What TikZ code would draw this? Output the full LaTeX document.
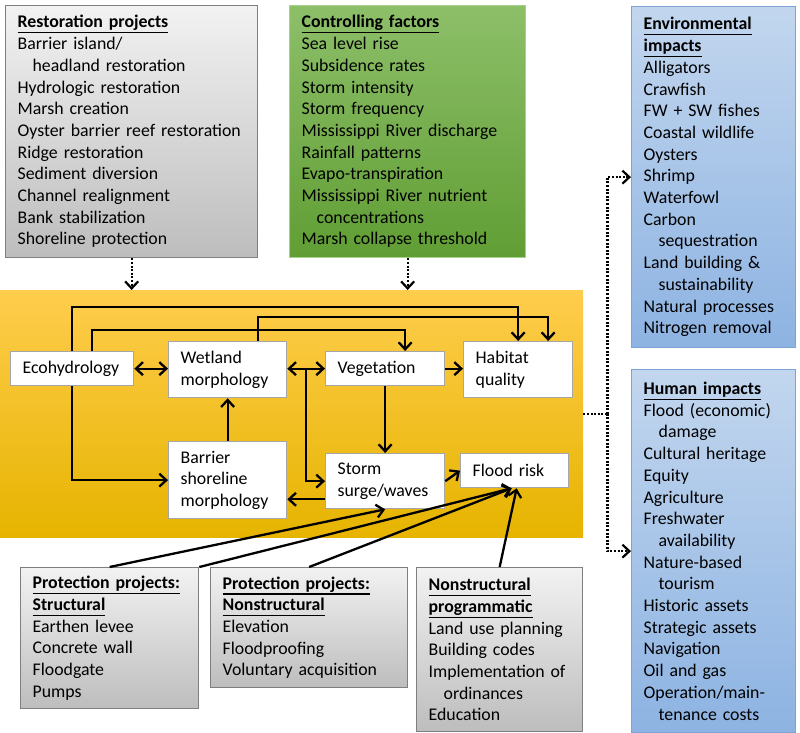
\documentclass[tikz,border=0pt]{standalone}
\usepackage{fontspec}
\setmainfont{Carlito}
\usetikzlibrary{arrows.meta,calc}
\definecolor{grayA}{RGB}{242,242,242}
\definecolor{grayB}{RGB}{189,189,189}
\definecolor{grayline}{RGB}{127,127,127}
\definecolor{greenA}{RGB}{141,191,105}
\definecolor{greenB}{RGB}{96,158,52}
\definecolor{greenline}{RGB}{169,209,142}
\definecolor{blueA}{RGB}{194,214,238}
\definecolor{blueB}{RGB}{141,179,226}
\definecolor{blueline}{RGB}{125,163,214}
\definecolor{orngA}{RGB}{255,205,76}
\definecolor{orngB}{RGB}{255,192,0}
\definecolor{orngC}{RGB}{230,180,0}
\definecolor{procline}{RGB}{166,166,166}
\newcommand{\boxhead}[1]{\leavevmode\setbox0\hbox{\textbf{#1}}\rlap{\rule[-5.5pt]{\wd0}{1.3pt}}\box0}
\newcommand{\indln}{\hspace*{15pt}}
\tikzset{
  txt/.style={font=\fontsize{17.8}{21.7}\selectfont, align=left, anchor=north west, inner xsep=12pt, inner ysep=0pt},
  graybox/.style={txt, draw=grayline, line width=1.3pt, top color=grayA, bottom color=grayB},
  greenbox/.style={txt, draw=greenline, line width=1.3pt, top color=greenA, bottom color=greenB},
  bluebox/.style={txt, draw=blueline, line width=1.3pt, top color=blueA, bottom color=blueB},
  proc/.style={txt, draw=procline, line width=1.3pt, fill=white},
  arr/.style={line width=2.3pt},
  dotarr/.style={line width=2.2pt, dash pattern=on 2pt off 1.6pt}
}
\begin{document}
\begin{tikzpicture}[x=1pt, y=-1pt, >={Straight Barb[length=7pt,width=13pt]}]
\useasboundingbox (0,0) rectangle (800,733);
\node[anchor=north west, inner sep=0pt, minimum width=583pt, minimum height=247pt, top color=orngA, middle color=orngB, bottom color=orngC] (main) at (0,290) {};
\node[graybox, text width=228pt, minimum height=252pt] (resto) at (5,5) {\boxhead{Restoration projects}\\Barrier island/\\\indln headland restoration\\Hydrologic restoration\\Marsh creation\\Oyster barrier reef restoration\\Ridge restoration\\Sediment diversion\\Channel realignment\\Bank stabilization\\Shoreline protection};
\node[greenbox, text width=212pt, minimum height=252pt] (ctrl) at (289,5) {\boxhead{Controlling factors}\\Sea level rise\\Subsidence rates\\Storm intensity\\Storm frequency\\Mississippi River discharge\\Rainfall patterns\\Evapo-transpiration\\Mississippi River nutrient\\\indln concentrations\\Marsh collapse threshold};
\node[bluebox, text width=140pt, minimum height=341pt] (env) at (631,6) {\boxhead{Environmental}\\\boxhead{impacts}\\Alligators\\Crawfish\\FW + SW fishes\\Coastal wildlife\\Oysters\\Shrimp\\Waterfowl\\Carbon\\\indln sequestration\\Land building \&\\\indln sustainability\\Natural processes\\Nitrogen removal};
\node[bluebox, text width=140pt, minimum height=363pt] (human) at (631,369) {\boxhead{Human impacts}\\Flood (economic)\\\indln damage\\Cultural heritage\\Equity\\Agriculture\\Freshwater\\\indln availability\\Nature-based\\\indln tourism\\Historic assets\\Strategic assets\\Navigation\\Oil and gas\\Operation/main-\\\indln tenance costs};
\node[graybox, text width=154pt, minimum height=141pt] (strct) at (20,567) {\boxhead{Protection projects:}\\\boxhead{Structural}\\Earthen levee\\Concrete wall\\Floodgate\\Pumps};
\node[graybox, text width=173pt, minimum height=120pt] (nonst) at (210,567) {\boxhead{Protection projects:}\\\boxhead{Nonstructural}\\Elevation\\Floodproofing\\Voluntary acquisition};
\node[graybox, text width=142pt, minimum height=164pt] (prog) at (416,567) {\boxhead{Nonstructural}\\\boxhead{programmatic}\\Land use planning\\Building codes\\Implementation of\\\indln ordinances\\Education};
\node[proc, text width=99pt, minimum height=34pt] (eco) at (10,351) {Ecohydrology};
\node[proc, text width=94pt, minimum height=56pt] (wet) at (168,341) {Wetland\\morphology};
\node[proc, text width=95pt, minimum height=34pt] (veg) at (325,351) {Vegetation};
\node[proc, text width=85pt, minimum height=56pt] (hab) at (463,341) {Habitat\\quality};
\node[proc, text width=94pt, minimum height=77pt] (bar) at (168,441) {Barrier\\shoreline\\morphology};
\node[proc, text width=95pt, minimum height=55pt] (storm) at (325,453) {Storm\\surge/waves};
\node[proc, text width=84pt, minimum height=34pt] (flood) at (460,453) {Flood risk};
\draw[arr,<->] (eco.east) -- (eco.east -| wet.west);
\draw[arr,<->] (veg.west -| wet.east) -- (veg.west);
\coordinate (jn) at ($(veg.west -| wet.east)!.5!(veg.west)$);
\draw[arr,->] (jn) |- (storm.west);
\draw[arr,->] (veg.east) -- (veg.east -| hab.west);
\draw[arr,->] (veg.south) -- (storm.north);
\draw[arr,->] ([yshift=10pt]storm.south west) -- ([yshift=10pt]storm.south west -| bar.east);
\draw[arr,->] (bar.north) -- (wet.south);
\draw[arr,->] (eco.south) |- (bar.west);
\draw[arr,->] (eco.north) -- (eco.north |- 0,307) -| (hab.north);
\draw[arr,->] ([xshift=20pt]eco.north) -- ([xshift=20pt]eco.north |- 0,330) -| ([xshift=20pt]veg.north);
\draw[arr,->] ([xshift=30pt]wet.north) -- ([xshift=30pt]wet.north |- 0,317) -| ([xshift=30pt]hab.north);
\draw[arr,->] (storm.east) -- (flood.west);
\draw[arr,->] (strct.north) -- (storm.south);
\draw[arr,->] (strct.north east) -- ([xshift=-3pt]flood.south);
\draw[arr,->] (nonst.north) -- ([xshift=-3pt]flood.south);
\draw[arr,->] (prog.north) -- ([xshift=2pt]flood.south);
\draw[dotarr,->] (resto.south) -- (resto.south |- main.north);
\draw[dotarr,->] (ctrl.south) -- (ctrl.south |- main.north);
\coordinate (split) at ($(main.east)+(24,0)$);
\draw[dotarr] (main.east) -- (split);
\draw[dotarr,->] (split) |- (env.west);
\draw[dotarr,->] (split) |- (human.west);
\end{tikzpicture}
\end{document}
